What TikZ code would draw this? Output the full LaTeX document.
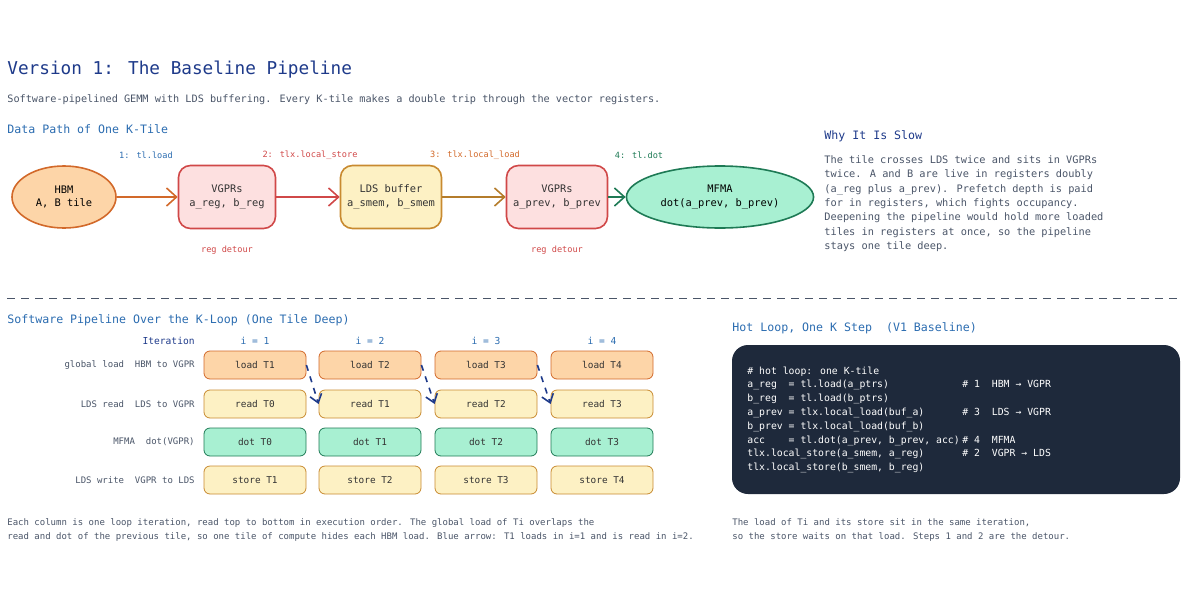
\documentclass[tikz,border=0pt]{standalone}
\usepackage{fontspec}
\setmainfont{DejaVu Sans Mono}
\setmonofont{DejaVu Sans Mono}
\usetikzlibrary{positioning,shapes.geometric,arrows.meta}
\definecolor{ttl}{HTML}{1E3A8A}
\definecolor{hdr}{HTML}{2B6CB0}
\definecolor{txt}{HTML}{4A5568}
\definecolor{hbmf}{HTML}{FDD5A8}\definecolor{hbmd}{HTML}{D2692A}
\definecolor{regf}{HTML}{FDE0E0}\definecolor{regd}{HTML}{D04848}
\definecolor{ldsf}{HTML}{FDF1C4}\definecolor{ldsd}{HTML}{C88A30}
\definecolor{mfmf}{HTML}{A8F0D2}\definecolor{mfmd}{HTML}{1E7A55}
\definecolor{codebg}{HTML}{1E293B}
\definecolor{arrb}{HTML}{1E3A8A}
\tikzset{
  fs/.style={font=\fontsize{#1pt}{\dimexpr#1pt*13/10\relax}\selectfont},
  fsl/.style 2 args={font=\fontsize{#1pt}{#2pt}\selectfont},
  plain/.style={inner sep=0pt,text=txt},
  unit/.style={draw=#1d,fill=#1f,rounded corners=6pt,thick,minimum width=48.5pt,
    minimum height=31.5pt,align=center,fs=5.2,text=black!80},
  cell/.style={draw=#1d,fill=#1f,rounded corners=3pt,minimum width=51pt,
    minimum height=14pt,fs=4.7,text=black!80},
  flow/.style={-{Straight Barb[length=5pt,width=9pt]},thick,draw=#1},
}
\begin{document}
\begin{tikzpicture}[x=0.5pt,y=-0.5pt]
  \useasboundingbox (0,0) rectangle (1200,600);

  % headings
  \node[plain,anchor=base west,fs=8.85,text=ttl] (title) at (7,74) {Version 1: The Baseline Pipeline};
  \node[plain,anchor=base west,fs=5.1] (sub) at (7,102)
    {Software-pipelined GEMM with LDS buffering. Every K-tile makes a double trip through the vector registers.};
  \node[plain,anchor=base west,fs=5.8,text=hdr] (h1) at (7,133) {Data Path of One K-Tile};

  % data path
  \node[ellipse,draw=hbmd,fill=hbmf,thick,minimum width=52pt,minimum height=31pt,
        align=center,fs=5.2] (hbm) at (64,197) {HBM\\A, B tile};
  \node[unit=reg,right=81.5pt of hbm.center,anchor=center] (vg1) {VGPRs\\a\_reg, b\_reg};
  \node[unit=lds,right=82pt of vg1.center,anchor=center] (lds) {LDS buffer\\a\_smem, b\_smem};
  \node[unit=reg,right=83pt of lds.center,anchor=center] (vg2) {VGPRs\\a\_prev, b\_prev};
  \node[ellipse,draw=mfmd,fill=mfmf,thick,minimum width=78pt,minimum height=31pt,
        align=center,fs=5.2] (mfma) at (720,197) {MFMA\\dot(a\_prev, b\_prev)};

  \draw[flow=hbmd] (hbm) -- (vg1);
  \draw[flow=regd] (vg1) -- (lds);
  \draw[flow=ldsd!90!black] (lds) -- (vg2);
  \draw[flow=mfmd] (vg2) -- (mfma);

  \node[plain,fs=4.3,text=hdr] (s1) at (146,155) {1: tl.load};
  \node[plain,fs=4.3,text=regd] (s2) at (310,155) {2: tlx.local\_store};
  \node[plain,fs=4.3,text=hbmd] (s3) at (475,155) {3: tlx.local\_load};
  \node[plain,fs=4.3,text=mfmd] (s4) at (639,155) {4: tl.dot};
  \node[plain,fs=4.3,text=regd,below=8pt of vg1] (d1) {reg detour};
  \node[plain,fs=4.3,text=regd,below=8pt of vg2] (d2) {reg detour};

  % why slow
  \node[plain,anchor=base west,fs=5.8,text=ttl] (h2) at (824,139) {Why It Is Slow};
  \node[plain,anchor=north west,align=left,fsl={5.15}{7.2}] (why) at (824,155)
    {The tile crosses LDS twice and sits in VGPRs\\
     twice. A and B are live in registers doubly\\
     (a\_reg plus a\_prev). Prefetch depth is paid\\
     for in registers, which fights occupancy.\\
     Deepening the pipeline would hold more loaded\\
     tiles in registers at once, so the pipeline\\
     stays one tile deep.};

  \draw[txt,dash pattern=on 4pt off 3pt] (7,298) -- (1180,298);

  % pipeline table
  \node[plain,anchor=base west,fs=5.8,text=hdr] (h3) at (7,323) {Software Pipeline Over the K-Loop (One Tile Deep)};
  \node[plain,anchor=base east,fs=4.8,text=ttl] (it) at (195,344) {Iteration};
  \foreach \i/\x in {1/255,2/370,3/486,4/602} {
    \node[plain,anchor=base,fs=4.8,text=hdr] (it\i) at (\x,344) {i = \i};
    \pgfmathtruncatemacro\p{\i-1}
    \node[cell=hbm] (ld\i) at (\x,365) {load T\i};
    \node[cell=lds] (rd\i) at (\x,404) {read T\p};
    \node[cell=mfm] (dt\i) at (\x,442) {dot T\p};
    \node[cell=lds] (st\i) at (\x,480) {store T\i};
  }
  \foreach \a/\b in {1/2,2/3,3/4}
    \draw[arrb,thick,dashed,-{Straight Barb[length=4pt,width=6pt]}]
      (ld\a.east) -- (rd\b.west);
  \node[plain,anchor=east,fs=4.5] (r1) at (195,365) {global load~~HBM to VGPR};
  \node[plain,anchor=east,fs=4.5] (r2) at (195,404) {LDS read~~LDS to VGPR};
  \node[plain,anchor=east,fs=4.5] (r3) at (195,442) {MFMA~~dot(VGPR)};
  \node[plain,anchor=east,fs=4.5] (r4) at (195,480) {LDS write~~VGPR to LDS};

  \node[plain,anchor=north west,align=left,fsl={4.5}{7}] (n1) at (7,518)
    {Each column is one loop iteration, read top to bottom in execution order. The global load of Ti overlaps the\\
     read and dot of the previous tile, so one tile of compute hides each HBM load. Blue arrow: T1 loads in i=1 and is read in i=2.};

  % hot loop code
  \node[plain,anchor=base west,fs=5.8,text=hdr] (h4) at (732,331) {Hot Loop, One K Step~~(V1 Baseline)};
  \fill[codebg,rounded corners=8pt] (732,345) rectangle (1180,494);
  \foreach \n/\t in {0/{\# hot loop: one K-tile},
                     1/{a\_reg~~= tl.load(a\_ptrs)},
                     2/{b\_reg~~= tl.load(b\_ptrs)},
                     3/{a\_prev = tlx.local\_load(buf\_a)},
                     4/{b\_prev = tlx.local\_load(buf\_b)},
                     5/{acc~~~~= tl.dot(a\_prev, b\_prev, acc)},
                     6/{tlx.local\_store(a\_smem, a\_reg)},
                     7/{tlx.local\_store(b\_smem, b\_reg)}}
    \node[plain,anchor=base west,fs=4.9,text=white] (c\n) at (747,374+13.8*\n) {\t};
  \foreach \n/\t in {1/{\# 1~~HBM → VGPR},3/{\# 3~~LDS → VGPR},5/{\# 4~~MFMA},6/{\# 2~~VGPR → LDS}}
    \node[plain,anchor=base west,fs=4.9,text=white] (k\n) at (962,374+13.8*\n) {\t};

  \node[plain,anchor=north west,align=left,fsl={4.5}{7}] (n2) at (732,518)
    {The load of Ti and its store sit in the same iteration,\\
     so the store waits on that load. Steps 1 and 2 are the detour.};
\end{tikzpicture}
\end{document}
